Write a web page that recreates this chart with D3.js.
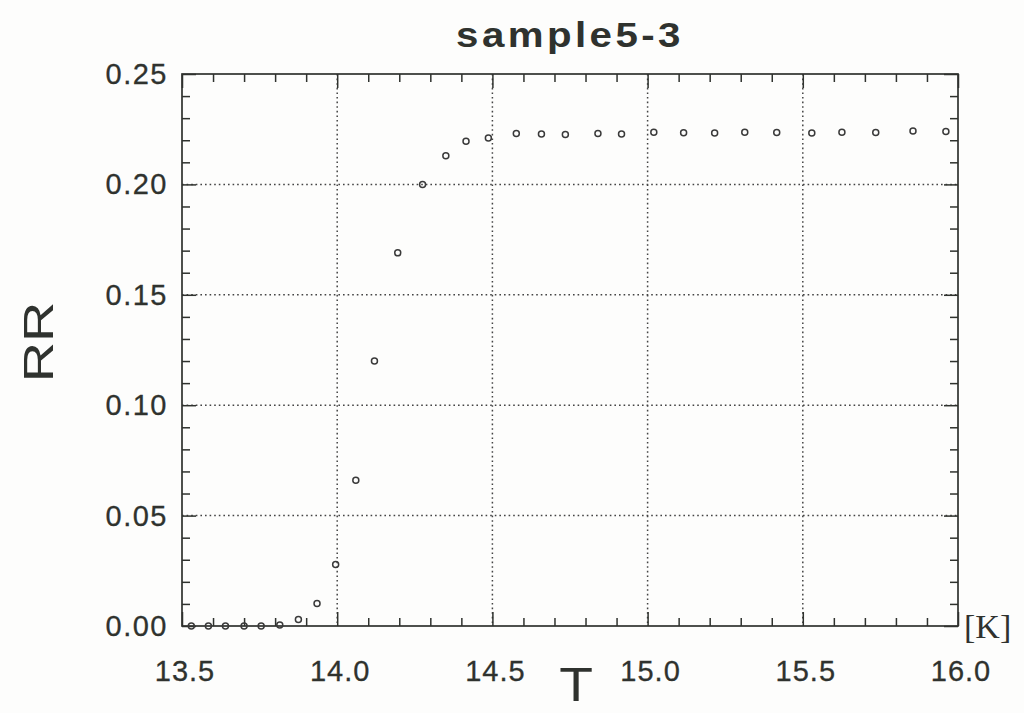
<!DOCTYPE html>
<html><head><meta charset="utf-8">
<script src="https://cdn.jsdelivr.net/npm/d3@7"></script>
<style>html,body{margin:0;padding:0;background:#fdfdfc;}</style>
</head><body>
<script>
const titleText = "sample5-3";
const xLabel = "T";
const yLabel = "RR";
const unitLabel = "[K]";
const xTicks = [13.5, 14.0, 14.5, 15.0, 15.5, 16.0];
const yTicks = [0.00, 0.05, 0.10, 0.15, 0.20, 0.25];
const temperature = [13.53, 13.585, 13.64, 13.70, 13.755, 13.815, 13.875, 13.935, 13.995, 14.06,
  14.12, 14.195, 14.275, 14.35, 14.415, 14.487, 14.577, 14.658, 14.735, 14.84,
  14.916, 15.02, 15.116, 15.216, 15.313, 15.416, 15.529, 15.626, 15.735, 15.855, 15.961];
const rr = [0, 0, 0, 0, 0, 0.0005, 0.003, 0.0102, 0.0278, 0.066,
  0.120, 0.169, 0.200, 0.213, 0.2195, 0.221, 0.223, 0.2228, 0.2226, 0.223,
  0.2228, 0.2236, 0.2234, 0.2233, 0.2236, 0.2235, 0.2233, 0.2236, 0.2235, 0.2242, 0.224];

const W = 1024, H = 713;
const L = 182, R = 958, T = 74, B = 626;
const ink = "#2f322e";

const svg = d3.select("body").append("svg").attr("width", W).attr("height", H)
  .style("background", "#fdfdfc");

const x = d3.scaleLinear().domain([13.5, 16.0]).range([L, R]);
const y = d3.scaleLinear().domain([0, 0.25]).range([B, T]);

// grid (dotted)
const grid = svg.append("g");
grid.selectAll("line.gx").data(xTicks.slice(1, -1)).join("line")
  .attr("x1", d => x(d)).attr("x2", d => x(d)).attr("y1", T).attr("y2", B)
  .attr("stroke", "#444").attr("stroke-width", 1.5).attr("stroke-dasharray", "1.6,3");
grid.selectAll("line.gy").data(yTicks.slice(1, -1)).join("line")
  .attr("y1", d => y(d)).attr("y2", d => y(d)).attr("x1", L).attr("x2", R)
  .attr("stroke", "#444").attr("stroke-width", 1.5).attr("stroke-dasharray", "1.6,3");

// axes with inward ticks
const xMinor = d3.range(0, 26).map(i => 13.5 + i * 0.1).filter(v => !xTicks.some(t => Math.abs(t - v) < 1e-6));
const yMinor = d3.range(0, 26).map(i => i * 0.01).filter(v => !yTicks.some(t => Math.abs(t - v) < 1e-6));

function styleAxis(g) {
  g.select(".domain").remove();
  g.selectAll(".tick line").attr("stroke", ink).attr("stroke-width", 1.5);
  g.selectAll("text").remove();
}
svg.append("g").attr("transform", `translate(0,${B})`)
  .call(d3.axisBottom(x).tickValues(xTicks).tickSizeInner(-14).tickSizeOuter(0)).call(styleAxis);
svg.append("g").attr("transform", `translate(0,${B})`)
  .call(d3.axisBottom(x).tickValues(xMinor).tickSizeInner(-8).tickSizeOuter(0)).call(styleAxis);
svg.append("g").attr("transform", `translate(0,${T})`)
  .call(d3.axisTop(x).tickValues(xTicks).tickSizeInner(-14).tickSizeOuter(0)).call(styleAxis);
svg.append("g").attr("transform", `translate(0,${T})`)
  .call(d3.axisTop(x).tickValues(xMinor).tickSizeInner(-8).tickSizeOuter(0)).call(styleAxis);
svg.append("g").attr("transform", `translate(${L},0)`)
  .call(d3.axisLeft(y).tickValues(yTicks).tickSizeInner(-14).tickSizeOuter(0)).call(styleAxis);
svg.append("g").attr("transform", `translate(${L},0)`)
  .call(d3.axisLeft(y).tickValues(yMinor).tickSizeInner(-8).tickSizeOuter(0)).call(styleAxis);
svg.append("g").attr("transform", `translate(${R},0)`)
  .call(d3.axisRight(y).tickValues(yTicks).tickSizeInner(-14).tickSizeOuter(0)).call(styleAxis);
svg.append("g").attr("transform", `translate(${R},0)`)
  .call(d3.axisRight(y).tickValues(yMinor).tickSizeInner(-8).tickSizeOuter(0)).call(styleAxis);

// frame
svg.append("rect").attr("x", L).attr("y", T).attr("width", R - L).attr("height", B - T)
  .attr("fill", "none").attr("stroke", ink).attr("stroke-width", 1.7);

// tick labels
const fontSans = "'Liberation Sans', Arial, Helvetica, sans-serif";
svg.append("g").selectAll("text").data(xTicks).join("text")
  .attr("x", d => x(d) + 3).attr("y", 681).attr("text-anchor", "middle")
  .attr("font-family", fontSans).attr("font-size", 29).attr("letter-spacing", 1)
  .attr("fill", ink).attr("stroke", ink).attr("stroke-width", 0.3).text(d => d.toFixed(1));
svg.append("g").selectAll("text").data(yTicks).join("text")
  .attr("x", 168).attr("y", d => y(d) + 10).attr("text-anchor", "end")
  .attr("font-family", fontSans).attr("font-size", 29).attr("letter-spacing", 1.5)
  .attr("fill", ink).attr("stroke", ink).attr("stroke-width", 0.3).text(d => d.toFixed(2));

// points
svg.append("g").selectAll("circle").data(temperature.map((t, i) => [t, rr[i]])).join("circle")
  .attr("cx", d => x(d[0])).attr("cy", d => y(d[1])).attr("r", 3)
  .attr("fill", "none").attr("stroke", "#3a3a3a").attr("stroke-width", 1.5);

// title
svg.append("text").attr("transform", "translate(570,47) scale(1.15,1)").attr("text-anchor", "middle")
  .attr("font-family", fontSans).attr("font-weight", "bold").attr("font-size", 35)
  .attr("letter-spacing", 3).attr("fill", ink).text(titleText);

// axis titles
svg.append("text").attr("transform", "translate(53,342) rotate(-90) scale(1.3,1)").attr("text-anchor", "middle")
  .attr("font-family", fontSans).attr("font-size", 43).attr("fill", ink).text(yLabel);
svg.append("text").attr("transform", "translate(576,701) scale(1.15,1)").attr("text-anchor", "middle")
  .attr("font-family", fontSans).attr("font-size", 48).attr("fill", ink).text(xLabel);
svg.append("text").attr("x", 964).attr("y", 638)
  .attr("font-family", "'Liberation Serif', 'Times New Roman', serif").attr("font-size", 34)
  .attr("fill", ink).text(unitLabel);
</script>
</body></html>
